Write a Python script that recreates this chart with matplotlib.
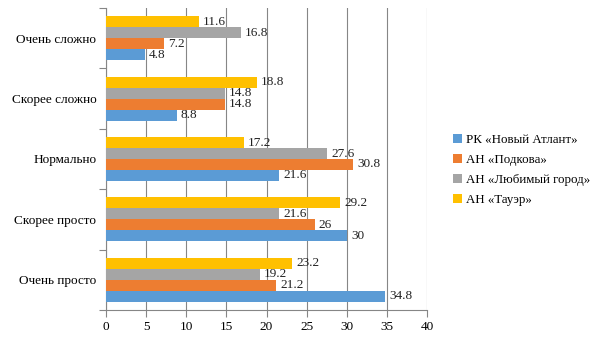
import numpy as np
import matplotlib
matplotlib.use("Agg")
import matplotlib.pyplot as plt

categories = ["Очень просто", "Скорее просто", "Нормально", "Скорее сложно", "Очень сложно"]
series = ["РК «Новый Атлант»", "АН «Подкова»", "АН «Любимый город»", "АН «Тауэр»"]
novyi_atlant = [34.8, 30, 21.6, 8.8, 4.8]
podkova = [21.2, 26, 30.8, 14.8, 7.2]
lyubimyi_gorod = [19.2, 21.6, 27.6, 14.8, 16.8]
tauer = [23.2, 29.2, 17.2, 18.8, 11.6]
values = [novyi_atlant, podkova, lyubimyi_gorod, tauer]
colors = ["#5b9bd5", "#ed7d31", "#a5a5a5", "#ffc000"]

plt.rcParams.update({"font.family": ["Liberation Serif", "DejaVu Serif"], "font.size": 9.5})
fig = plt.figure(figsize=(6.05, 3.4), dpi=100)
ax = fig.add_axes([106/605, 1-310/340, (427-106)/605, (310-8)/340])

y = np.arange(len(categories))
h = 0.182
for k, (vals, name, c) in enumerate(zip(values, series, colors)):
    bars = ax.barh(y + (k - 1.5) * h, vals, height=h, color=c, label=name, zorder=3)
    ax.bar_label(bars, labels=[f"{v:g}" for v in vals], padding=3, fontsize=9.5, color="#222222")

ax.set_xlim(0, 40)
ax.set_ylim(-0.5, len(categories) - 0.5)
ax.set_xticks(np.arange(0, 41, 5))
ax.set_yticks(y, categories)
ax.set_yticks(np.arange(-0.5, len(categories), 1), minor=True)
ax.tick_params(axis="y", which="major", length=0, pad=7)
ax.tick_params(axis="y", which="minor", length=5, color="#868686", width=0.8)
ax.tick_params(axis="x", length=5, color="#868686", width=0.8, pad=3)
ax.grid(axis="x", color="#868686", lw=0.8, zorder=0)
for s in ["top", "right"]:
    ax.spines[s].set_visible(False)
for s in ["left", "bottom"]:
    ax.spines[s].set_color("#868686")
    ax.spines[s].set_linewidth(0.8)

handles, labels = ax.get_legend_handles_labels()
fig.legend(handles, labels, loc="center left", bbox_to_anchor=(441/605, 1-170/340),
           frameon=False, handlelength=0.7, handleheight=0.7, handletextpad=0.35,
           labelspacing=0.6, fontsize=9.3)

fig.savefig("out.png", dpi=100)
